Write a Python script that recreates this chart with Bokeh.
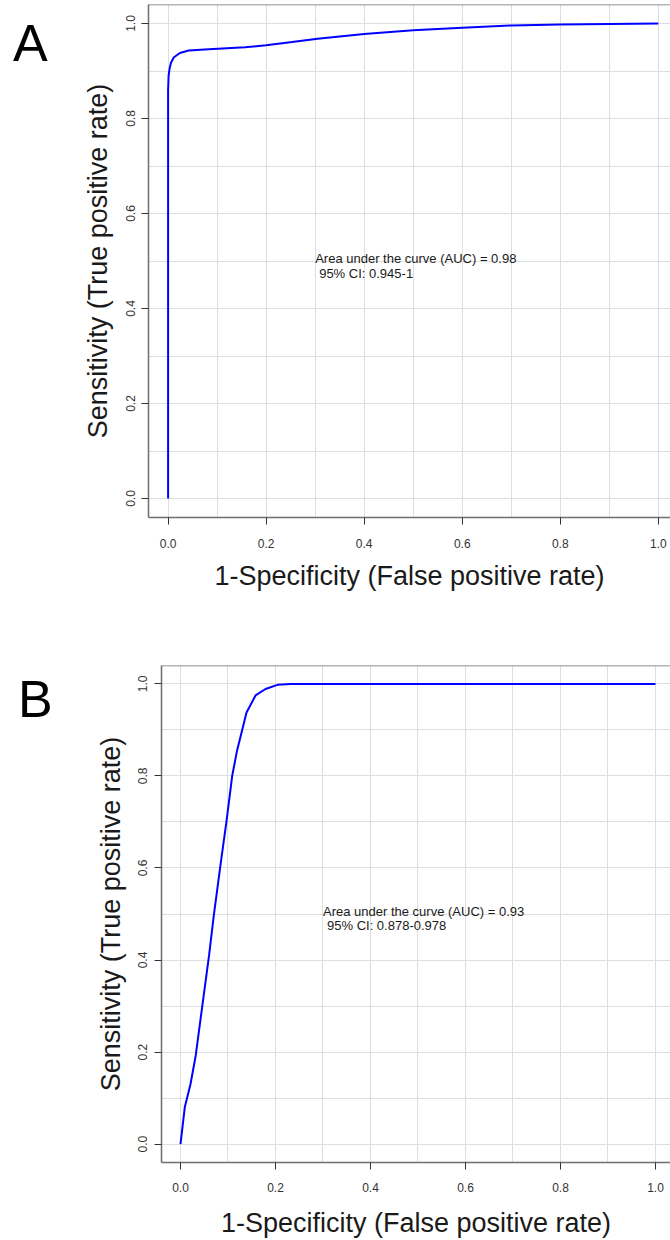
from bokeh.plotting import figure
from bokeh.models import FixedTicker, Span, Label, PrintfTickFormatter, Div
from bokeh.layouts import column, row
from bokeh.embed import file_html
from bokeh.resources import INLINE

# ---- data ----
fpr_a = [0.0, 0.0, 0.001, 0.003, 0.006, 0.012, 0.024, 0.042, 0.083, 0.157, 0.2,
         0.253, 0.305, 0.4, 0.5, 0.6, 0.7, 0.8, 0.9, 1.0]
tpr_a = [0.0, 0.86, 0.89, 0.905, 0.918, 0.929, 0.938, 0.943, 0.946, 0.95, 0.954,
         0.961, 0.968, 0.978, 0.986, 0.991, 0.996, 0.998, 0.999, 1.0]

fpr_b = [0.0, 0.009, 0.021, 0.032, 0.046, 0.060, 0.070, 0.084, 0.097, 0.109, 0.119,
         0.139, 0.158, 0.179, 0.204, 0.232, 1.0]
tpr_b = [0.0, 0.080, 0.130, 0.192, 0.301, 0.409, 0.496, 0.605, 0.703, 0.801, 0.855,
         0.938, 0.975, 0.989, 0.998, 1.0, 1.0]

auc_text_a = ["Area under the curve (AUC) = 0.98", "95% CI: 0.945-1"]
auc_text_b = ["Area under the curve (AUC) = 0.93", "95% CI: 0.878-0.978"]
panel_letters = ["A", "B"]
major_ticks = [0.0, 0.2, 0.4, 0.6, 0.8, 1.0]
minor_ticks = [0.1, 0.3, 0.5, 0.7, 0.9]
x_title = "1-Specificity (False positive rate)"
y_title = "Sensitivity (True positive rate)"

FONT = "Liberation Sans"
GRID = "#dedede"
AXIS = "#6e6e6e"


def make_panel(fpr, tpr, texts, width, height, b_top, b_bottom, x_end,
               lab_standoff_x, title_standoff_x):
    p = figure(width=width, height=height, output_backend="svg", toolbar_location=None,
               x_range=(-0.04, x_end), y_range=(-0.04, 1.04),
               min_border_top=b_top, min_border_bottom=b_bottom,
               min_border_left=88, min_border_right=0)
    p.outline_line_color = None
    p.background_fill_color = "white"
    p.border_fill_color = "white"

    for ax in (p.xaxis[0], p.yaxis[0]):
        ax.ticker = FixedTicker(ticks=major_ticks, minor_ticks=minor_ticks)
        ax.formatter = PrintfTickFormatter(format="%.1f")
        ax.axis_line_color = AXIS
        ax.axis_line_width = 1.5
        ax.major_tick_line_color = "#333333"
        ax.major_tick_line_width = 1
        ax.major_tick_out = 7
        ax.major_tick_in = 0
        ax.minor_tick_line_color = None
        ax.major_label_text_font = FONT
        ax.major_label_text_font_size = "12px"
        ax.major_label_text_color = "#333333"
        ax.axis_label_text_font = FONT
        ax.axis_label_text_font_size = "27px"
        ax.axis_label_text_font_style = "normal"
        ax.axis_label_text_color = "#1a1a1a"

    p.xaxis.axis_label = x_title
    p.yaxis.axis_label = y_title
    p.xaxis.major_label_standoff = lab_standoff_x
    p.xaxis.axis_label_standoff = title_standoff_x
    p.yaxis.major_label_standoff = 7
    p.yaxis.axis_label_standoff = 10
    p.yaxis.major_label_orientation = "vertical"

    for g in (p.xgrid[0], p.ygrid[0]):
        g.ticker = FixedTicker(ticks=major_ticks, minor_ticks=minor_ticks)
        g.grid_line_color = GRID
        g.grid_line_width = 1
        g.minor_grid_line_color = GRID
        g.minor_grid_line_width = 1

    p.add_layout(Span(location=1.04, dimension="width", line_color=AXIS, line_width=1.5))

    p.line(fpr, tpr, line_color="#0000ff", line_width=2)

    p.add_layout(Label(x=0.3, y=0.506, text=texts[0], text_font=FONT,
                       text_font_size="13px", text_color="#1a1a1a",
                       text_align="left", text_baseline="middle"))
    p.add_layout(Label(x=0.3, y=0.474, x_offset=4, text=texts[1], text_font=FONT,
                       text_font_size="13px", text_color="#1a1a1a",
                       text_align="left", text_baseline="middle"))
    return p


def letter_div(letter, height, left, top):
    html = (f'<div style="position:absolute; left:{left}px; top:{top}px; '
            f'font-family:\'Liberation Sans\'; font-size:52px; line-height:52px; '
            f'color:black; margin:0; padding:0;">{letter}</div>')
    return Div(text=html, width=60, height=height, margin=(0, 0, 0, 0),
               styles={"position": "relative", "overflow": "visible"})


pA = make_panel(fpr_a, tpr_a, auc_text_a, 610, 618, 4, 101, 1.0249, 14, 10)
pB = make_panel(fpr_b, tpr_b, auc_text_b, 597, 622, 47, 78, 1.0316, 13, 13)
pB.margin = (0, 0, 0, 13)

dA = letter_div(panel_letters[0], 618, 13, 17)
dB = letter_div(panel_letters[1], 622, 18, 55)

layout = column(row(dA, pA, spacing=0), row(dB, pB, spacing=0), spacing=0)
open("out.html", "w").write(file_html(layout, INLINE))
